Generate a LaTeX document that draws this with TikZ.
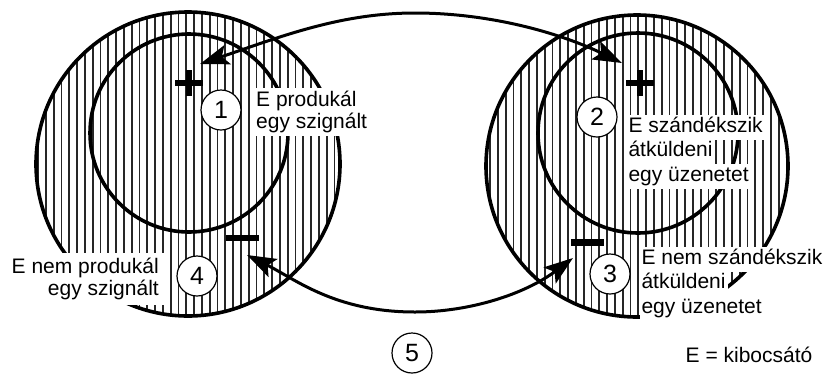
\documentclass[tikz,border=0pt]{standalone}
\usepackage{fontspec}
\setmainfont{Liberation Sans}
\usetikzlibrary{arrows.meta,calc}
\begin{document}
\begin{tikzpicture}[x=1pt,y=-1pt,
  ring/.style={line width=3.6pt},
  hatchline/.style={line width=1.8pt, black!85},
  conn/.style={line width=3pt, {Stealth[length=29pt,width=20pt,inset=6pt]}-{Stealth[length=29pt,width=20pt,inset=6pt]}},
  num/.style={circle, draw, line width=1.2pt, fill=white, minimum size=40pt, inner sep=0pt, font=\fontsize{25}{25}\selectfont},
  boxlbl/.style={fill=white, inner ysep=3pt, font=\fontsize{21}{22}\selectfont},
  linelbl/.style={fill=white, anchor=base west, inner xsep=2pt, inner ysep=1.5pt, text height=16pt, text depth=6pt, font=\fontsize{21}{24.5}\selectfont},
  sign/.style={fill=black}
]
\useasboundingbox (0,0) rectangle (830,373);
% centres
\coordinate (cL) at (188,164);
\coordinate (cLi) at (189,133);
\coordinate (cR) at (637,166);
\coordinate (cRi) at (638,133);
% hatching
\begin{scope}
  \clip (cL) circle[radius=152pt];
  \foreach \i in {0,...,40} \draw[hatchline] ({38+7.8*\i},0) -- ({38+7.8*\i},373);
\end{scope}
\begin{scope}
  \clip (cR) circle[radius=151pt];
  \foreach \i in {0,...,40} \draw[hatchline] ({490+7.8*\i},0) -- ({490+7.8*\i},373);
\end{scope}
% circles
\draw[ring] (cL) circle[radius=152pt];
\draw[ring] (cLi) circle[radius=99pt];
\draw[ring] (cR) circle[radius=151pt];
\draw[ring] (cRi) circle[radius=100pt];
% connector (5)
\coordinate (tipTL) at (200,64);
\coordinate (top) at (415,13);
\coordinate (tipTR) at (622,63);
\coordinate (tipBL) at (247,255);
\coordinate (bot) at (415,312);
\coordinate (tipBR) at (573,258);
\draw[conn] (tipTL) .. controls (280,37) and (340,13) .. (top) .. controls (490,13) and (560,33) .. (tipTR);
\draw[conn] (tipBL) .. controls (295,279) and (335,312) .. (bot) .. controls (470,312) and (525,294) .. (tipBR);
% labels
\node[boxlbl, align=left, anchor=north west, inner xsep=3pt] (l1) at (253,88) {E produkál\\egy szignált};
\node[boxlbl, align=right, anchor=north east, inner xsep=8pt, inner ysep=5pt] (l4) at (167,253) {E nem produkál\\egy szignált};
\node[linelbl] (l2a) at (626.3,132) {E szándékszik};
\node[linelbl] (l2b) at (626.3,156.5) {átküldeni};
\node[linelbl] (l2c) at (626.3,181) {egy üzenetet};
\node[linelbl] (l3a) at (639.3,264) {E nem szándékszik};
\node[linelbl] (l3b) at (639.3,288.5) {átküldeni};
\node[linelbl] (l3c) at (639.3,313) {egy üzenetet};
\node[anchor=base west, inner sep=0pt, font=\fontsize{21}{24}\selectfont] (key) at (685.5,362) {E = kibocsátó};
% numbers
\node[num] (n1) at (221,110) {1};
\node[num] (n2) at (597,117) {2};
\node[num] (n3) at (610,274) {3};
\node[num] (n4) at (197,276) {4};
\node[num] (n5) at (412,353) {5};
% signs
\coordinate (pL) at (189,83);
\coordinate (pR) at (640,83);
\coordinate (mL) at (242.5,238);
\coordinate (mR) at (587,242.5);
\foreach \p in {pL,pR}{
  \fill[sign] ($(\p)+(-14,-2.6)$) rectangle ($(\p)+(14,2.6)$);
  \fill[sign] ($(\p)+(-2.6,-13)$) rectangle ($(\p)+(2.6,13)$);
}
\foreach \m in {mL,mR}{
  \fill[sign] ($(\m)+(-16.5,-3.2)$) rectangle ($(\m)+(16.5,3.2)$);
}
\end{tikzpicture}
\end{document}
